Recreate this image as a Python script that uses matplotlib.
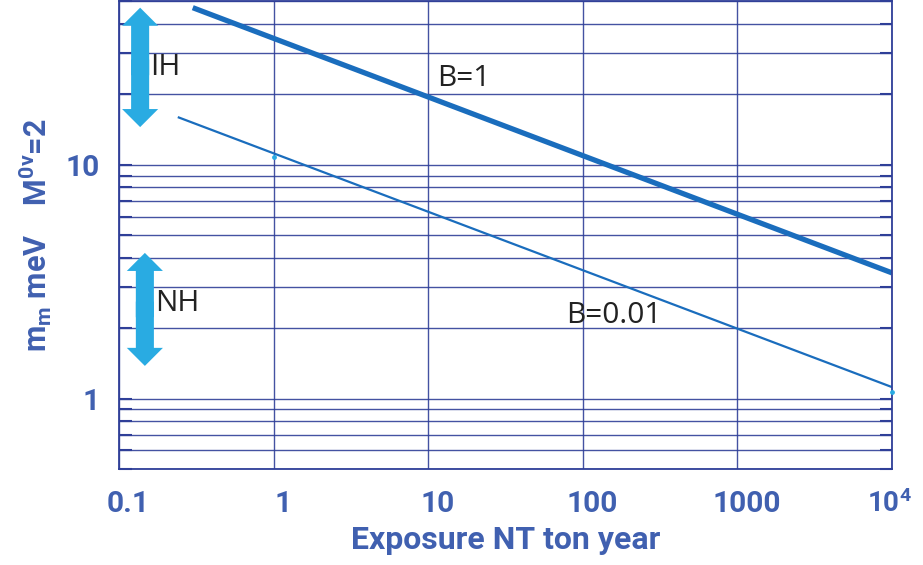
import matplotlib
matplotlib.use("Agg")
import matplotlib.pyplot as plt
import matplotlib.transforms as mtransforms
from matplotlib.ticker import FixedLocator, FixedFormatter, LogLocator, NullFormatter

# ---- data ----
b1_x = [0.3, 1e4]
b1_y = [47.0, 3.45]
b001_x = [0.24, 1e4]
b001_y = [16.0, 1.12]
dot_x = [1.0, 1e4]
dot_y = [10.8, 1.07]
ih_range = [14.5, 47.0]
nh_range = [1.38, 4.2]
ih_x = 0.137
nh_x = 0.147
xticks = [0.1, 1, 10, 100, 1000, 1e4]
xticklabels = ["0.1", "1", "10", "100", "1000", r"$\mathregular{10^4}$"]
yticks = [1, 10]
yticklabels = ["1", "10"]

axis_blue = "#2f3f98"
label_blue = "#4060b0"
line_blue = "#1a6dbd"
arrow_cyan = "#29abe2"
narrow = ["Roboto", "DejaVu Sans"]

plt.rcParams["mathtext.fontset"] = "custom"
plt.rcParams["mathtext.rm"] = "Roboto"
plt.rcParams["mathtext.bf"] = "Roboto:bold"

fig = plt.figure(figsize=(9.23, 5.65), dpi=100)
ax = fig.add_axes([119/923, 1 - 469/565, (892-119)/923, (469-1.4)/565])
ax.set_xscale("log")
ax.set_yscale("log")
ax.set_xlim(0.1, 1e4)
ax.set_ylim(0.5, 50)

# grid
ax.xaxis.set_major_locator(FixedLocator(xticks))
ax.xaxis.set_major_formatter(FixedFormatter(xticklabels))
ax.xaxis.set_minor_locator(FixedLocator([]))
ax.yaxis.set_major_locator(FixedLocator(yticks))
ax.yaxis.set_major_formatter(FixedFormatter(yticklabels))
ax.yaxis.set_minor_locator(LogLocator(base=10, subs=range(2, 10)))
ax.yaxis.set_minor_formatter(NullFormatter())
ax.grid(True, which="major", axis="both", color=axis_blue, lw=1.0, alpha=0.9)
ax.grid(True, which="minor", axis="y", color=axis_blue, lw=1.0, alpha=0.9)
ax.set_axisbelow(True)

for s in ax.spines.values():
    s.set_color(axis_blue)
    s.set_linewidth(1.3)

ax.tick_params(axis="both", which="both", direction="in", color=axis_blue,
               labelcolor=label_blue)
ax.tick_params(axis="y", which="both", left=True, right=True, length=9, width=1.5, pad=14)
ax.tick_params(axis="x", which="major", top=False, length=0, pad=15)
for lab in ax.get_xticklabels() + ax.get_yticklabels():
    lab.set_fontfamily(narrow)
    lab.set_fontsize(21.5)
    lab.set_fontweight("bold")
xlabs = ax.get_xticklabels()
for i, lab in enumerate(xlabs):
    dx = 9 if i < len(xlabs) - 1 else -3
    lab.set_transform(lab.get_transform() +
                      mtransforms.ScaledTranslation(dx/100, 0, fig.dpi_scale_trans))
xlabs[-1].set_fontsize(20)

# lines
ax.plot(b1_x, b1_y, color=line_blue, lw=3.8, solid_capstyle="butt")
ax.plot(b001_x, b001_y, color=line_blue, lw=1.6, solid_capstyle="butt")
ax.scatter(dot_x, dot_y, s=6, color=arrow_cyan, zorder=5, clip_on=False)

# arrows (double headed, built from two overlapping single-headed arrows)
style = "simple,head_length=1.3,head_width=2.6,tail_width=1.3"
def double_arrow(x, lo, hi):
    mid = (lo * hi) ** 0.5
    ax.annotate("", xy=(x, hi), xytext=(x, mid / 1.08),
                arrowprops=dict(arrowstyle=style, color=arrow_cyan, lw=0,
                                shrinkA=0, shrinkB=0, mutation_scale=10))
    ax.annotate("", xy=(x, lo), xytext=(x, mid * 1.08),
                arrowprops=dict(arrowstyle=style, color=arrow_cyan, lw=0,
                                shrinkA=0, shrinkB=0, mutation_scale=10))

double_arrow(ih_x, ih_range[0], ih_range[1])
double_arrow(nh_x, nh_range[0], nh_range[1])

txt = dict(color="#222222", fontsize=21.5, family=["Open Sans", "DejaVu Sans"])
ax.text(0.158, 26.2, "IH", va="center", ha="left", **txt)
ax.text(0.172, 2.55, "NH", va="center", ha="left", **txt)
ax.text(11.4, 23.5, "B=1", va="center", ha="left", **txt)
ax.text(78, 2.27, "B=0.01", va="center", ha="left", **txt)

ax.set_xlabel("Exposure NT ton year", family=narrow, fontsize=23, fontweight="bold",
              color=label_blue, labelpad=5)
ax.set_ylabel(r"$\mathbf{m_m}$ meV    $\mathbf{M^{0ν}}$=2", family=narrow,
              fontsize=22, fontweight="bold", color=label_blue, labelpad=8)

fig.savefig("out.png", dpi=100)
